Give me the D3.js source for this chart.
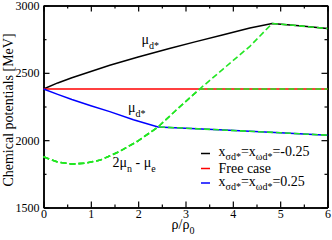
<!DOCTYPE html>
<html>
<head>
<meta charset="utf-8">
<script src="https://cdn.jsdelivr.net/npm/d3@7"></script>
<style>
  body { margin: 0; background: #fff; }
  svg { display: block; font-family: "Liberation Serif", "Times New Roman", serif; }
</style>
</head>
<body>
<svg id="chart" width="332" height="240"></svg>
<script>
// values (rho/rho0 , MeV)
const blackRho = [0, 0.3, 0.6, 1.0, 1.4, 2.0, 2.66, 3.2, 3.8, 4.36, 4.83, 5.4, 6];
const blackMu  = [2380, 2425, 2463, 2510, 2556, 2617, 2680, 2730, 2783, 2833, 2866, 2849, 2829];

const redRho = [0, 6];
const redMu  = [2380, 2380];

const blueRho = [0, 0.3, 0.6, 1.0, 1.4, 1.9, 2.42, 3.0, 3.93, 5.0, 6];
const blueMu  = [2380, 2340, 2302, 2256, 2212, 2152, 2098, 2089, 2073, 2055, 2037];

// 2mu_n - mu_e before the d* shows up (same for all three cases)
const greenRho = [0, 0.3, 0.6, 0.9, 1.2, 1.6, 2.0, 2.42, 2.8, 3.3, 3.8, 4.36, 4.83];
const greenMu  = [1876, 1838, 1822, 1830, 1852, 1915, 1995, 2098, 2222, 2380, 2530, 2697, 2866];

// where each case's d* threshold is reached
const onsetRho = [2.42, 3.3, 4.83];

const xTicks = [0, 1, 2, 3, 4, 5, 6];
const yTicks = [1500, 2000, 2500, 3000];

const legendLabels = ["-0.25", "Free case", "0.25"];
const legendColors = ["#000000", "#ff0000", "#0000ff"];

const svg = d3.select("#chart");
const mLeft = 43.5, mRight = 327.5, mTop = 5.5, mBottom = 207.5;

const x = d3.scaleLinear().domain([0, 6]).range([mLeft, mRight]);
const y = d3.scaleLinear().domain([1500, 3000]).range([mBottom, mTop]);

const zip = (a, b) => a.map((v, i) => [v, b[i]]);
const black = zip(blackRho, blackMu);
const red = zip(redRho, redMu);
const blue = zip(blueRho, blueMu);
const green = zip(greenRho, greenMu);

const line = d3.line().x(d => x(d[0])).y(d => y(d[1]));

// axes
const minorX = d3.range(0.5, 6, 1);
const minorY = [1750, 2250, 2750];

function styleAxis(g) {
  g.select(".domain").attr("stroke", "#000").attr("stroke-width", 1.5);
  g.selectAll(".tick line").attr("stroke", "#000").attr("stroke-width", 1.2);
  g.selectAll("text").attr("fill", "#000").style("font-size", "12px")
    .style("font-family", "'Liberation Serif', serif");
}

svg.append("g").attr("transform", `translate(0,${mBottom})`)
  .call(d3.axisBottom(x).tickValues(minorX).tickSize(-3).tickFormat("").tickSizeOuter(0))
  .call(styleAxis);
svg.append("g").attr("transform", `translate(0,${mBottom})`)
  .call(d3.axisBottom(x).tickValues(xTicks).tickSize(-6).tickPadding(2).tickFormat(d3.format("d")).tickSizeOuter(0))
  .call(styleAxis);
svg.append("g").attr("transform", `translate(0,${mTop})`)
  .call(d3.axisTop(x).tickValues(minorX).tickSize(-3).tickFormat("").tickSizeOuter(0))
  .call(styleAxis);
svg.append("g").attr("transform", `translate(0,${mTop})`)
  .call(d3.axisTop(x).tickValues(xTicks).tickSize(-6).tickFormat("").tickSizeOuter(0))
  .call(styleAxis);

svg.append("g").attr("transform", `translate(${mLeft},0)`)
  .call(d3.axisLeft(y).tickValues(minorY).tickSize(-3).tickFormat("").tickSizeOuter(0))
  .call(styleAxis);
svg.append("g").attr("transform", `translate(${mLeft},0)`)
  .call(d3.axisLeft(y).tickValues(yTicks).tickSize(-6).tickPadding(4).tickFormat(d3.format("d")).tickSizeOuter(0))
  .call(styleAxis);
svg.append("g").attr("transform", `translate(${mRight},0)`)
  .call(d3.axisRight(y).tickValues(minorY).tickSize(-3).tickFormat("").tickSizeOuter(0))
  .call(styleAxis);
svg.append("g").attr("transform", `translate(${mRight},0)`)
  .call(d3.axisRight(y).tickValues(yTicks).tickSize(-6).tickFormat("").tickSizeOuter(0))
  .call(styleAxis);

// solid curves
[[black, "#000000"], [red, "#ff0000"], [blue, "#0000ff"]].forEach(([pts, c]) => {
  svg.append("path").datum(pts)
    .attr("fill", "none").attr("stroke", c).attr("stroke-width", 1.5)
    .attr("d", line);
});

// dashed 2mu_n - mu_e, following mu_d* once the threshold is hit
const followers = [blue, red, black];
onsetRho.forEach((r0, i) => {
  const pts = green.filter(d => d[0] <= r0)
    .concat(followers[i].filter(d => d[0] > r0));
  svg.append("path").datum(pts)
    .attr("fill", "none").attr("stroke", "#22e622").attr("stroke-width", 1.6)
    .attr("stroke-dasharray", "6,3")
    .attr("d", line);
});

// curve labels
function muLabel(xp, yp, main, sub, tail, tailSub) {
  const t = svg.append("text").attr("x", xp).attr("y", yp)
    .style("font-size", "14px").attr("fill", "#000");
  t.append("tspan").text(main);
  t.append("tspan").attr("dy", 5).style("font-size", "10px").text(sub);
  if (tail) {
    t.append("tspan").attr("dy", -5).text(tail);
    t.append("tspan").attr("dy", 5).style("font-size", "10px").text(tailSub);
  }
}
muLabel(141.5, 43.5, "μ", "d*");
muLabel(128, 111.5, "μ", "d*");
muLabel(112.5, 166.5, "2μ", "n", " - μ", "e");

// legend
const legY = [153.5, 168.5, 183];
const legBase = [155.5, 173, 185.5];
legendLabels.forEach((lab, i) => {
  svg.append("line")
    .attr("x1", 201).attr("x2", 210).attr("y1", legY[i]).attr("y2", legY[i])
    .attr("stroke", legendColors[i]).attr("stroke-width", 1.5);
  const t = svg.append("text").attr("x", 218.5).attr("y", legBase[i])
    .style("font-size", "14px").attr("fill", "#000");
  if (i === 1) {
    t.text(lab);
  } else {
    t.append("tspan").text("x");
    t.append("tspan").attr("dy", 4).style("font-size", "10px").text("σd*");
    t.append("tspan").attr("dy", -4).text("=x");
    t.append("tspan").attr("dy", 4).style("font-size", "10px").text("ωd*");
    t.append("tspan").attr("dy", -4).text("=" + lab);
  }
});

// axis titles
svg.append("text")
  .attr("transform", "translate(12.5,110) rotate(-90)")
  .attr("text-anchor", "middle")
  .style("font-size", "14px").attr("fill", "#000")
  .text("Chemical potentials [MeV]");

const xt = svg.append("text").attr("x", 183).attr("y", 228.5)
  .attr("text-anchor", "middle").style("font-size", "14px").attr("fill", "#000");
xt.append("tspan").text("ρ/ρ");
xt.append("tspan").attr("dy", 5).style("font-size", "10px").text("0");
</script>
</body>
</html>
